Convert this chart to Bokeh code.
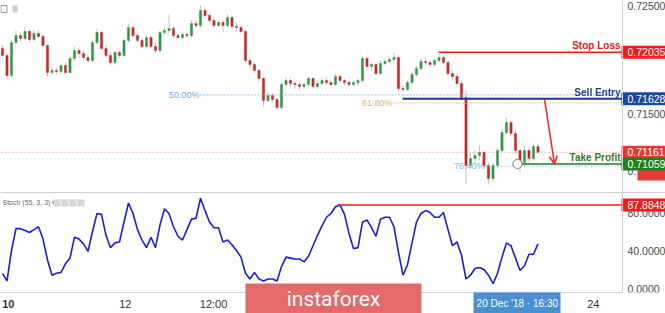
from bokeh.plotting import figure
from bokeh.models import Range1d, Arrow, OpenHead
from bokeh.embed import file_html
from bokeh.resources import INLINE
from bokeh.core.properties import value

# ---------------- data ----------------
opens = [
    0.72068, 0.72007, 0.71832, 0.72120, 0.72181, 0.72155, 0.72216, 0.72146, 0.72199, 0.72173,
    0.72094, 0.71858, 0.71876, 0.71867, 0.71919, 0.71858, 0.71980, 0.72050, 0.72024, 0.71989,
    0.71963, 0.72120, 0.72208, 0.72068, 0.72007, 0.71946, 0.72033, 0.72007, 0.72138, 0.72251,
    0.72181, 0.72138, 0.72085, 0.72164, 0.72085, 0.72050, 0.72208, 0.72225, 0.72242, 0.72181,
    0.72164, 0.72190, 0.72181, 0.72286, 0.72269, 0.72400, 0.72356, 0.72312, 0.72269, 0.72295,
    0.72269, 0.72339, 0.72260, 0.72251, 0.72216, 0.71963, 0.71928, 0.71876, 0.71806, 0.71614,
    0.71657, 0.71622, 0.71553, 0.71753, 0.71788, 0.71762, 0.71753, 0.71736, 0.71753, 0.71806,
    0.71736, 0.71762, 0.71788, 0.71771, 0.71753, 0.71823, 0.71788, 0.71771, 0.71753, 0.71771,
    0.71788, 0.71980, 0.71911, 0.71928, 0.71849, 0.71937, 0.71954, 0.71972, 0.71989, 0.71718,
    0.71710, 0.71771, 0.71841, 0.71893, 0.71954, 0.71946, 0.71928, 0.71963, 0.71989, 0.71946,
    0.71849, 0.71823, 0.71762, 0.71640, 0.71046, 0.71107, 0.71133, 0.71160, 0.71046, 0.70933,
    0.71046, 0.71177, 0.71334, 0.71422, 0.71326, 0.71177, 0.71072, 0.71177, 0.71107, 0.71212,
]
highs = [
    0.72094, 0.72024, 0.72138, 0.72225, 0.72208, 0.72260, 0.72234, 0.72225, 0.72225, 0.72190,
    0.72103, 0.71911, 0.71902, 0.71937, 0.71946, 0.71998, 0.72085, 0.72077, 0.72050, 0.72015,
    0.72138, 0.72242, 0.72225, 0.72094, 0.72033, 0.72050, 0.72050, 0.72155, 0.72286, 0.72269,
    0.72199, 0.72155, 0.72190, 0.72181, 0.72120, 0.72225, 0.72260, 0.72365, 0.72260, 0.72199,
    0.72216, 0.72216, 0.72312, 0.72312, 0.72443, 0.72426, 0.72373, 0.72339, 0.72321, 0.72321,
    0.72365, 0.72356, 0.72286, 0.72269, 0.72234, 0.71989, 0.71946, 0.71893, 0.71823, 0.71683,
    0.71675, 0.71640, 0.71771, 0.71815, 0.71806, 0.71788, 0.71771, 0.71771, 0.71823, 0.71823,
    0.71788, 0.71806, 0.71815, 0.71788, 0.71849, 0.71841, 0.71806, 0.71788, 0.71788, 0.71806,
    0.72007, 0.71998, 0.71946, 0.71946, 0.71963, 0.71980, 0.71998, 0.72033, 0.72007, 0.71745,
    0.71788, 0.71858, 0.71919, 0.71980, 0.71989, 0.71963, 0.71980, 0.72024, 0.72007, 0.71963,
    0.71876, 0.71849, 0.71780, 0.71701, 0.71151, 0.71177, 0.71221, 0.71177, 0.71072, 0.71072,
    0.71203, 0.71369, 0.71465, 0.71439, 0.71352, 0.71194, 0.71221, 0.71212, 0.71238, 0.71238,
]
lows = [
    0.71989, 0.71797, 0.71815, 0.72103, 0.72129, 0.72138, 0.72120, 0.72129, 0.72155, 0.72077,
    0.71823, 0.71832, 0.71841, 0.71849, 0.71841, 0.71849, 0.71963, 0.71989, 0.71963, 0.71937,
    0.71946, 0.72103, 0.72050, 0.71980, 0.71919, 0.71928, 0.71980, 0.71989, 0.72120, 0.72164,
    0.72120, 0.72068, 0.72068, 0.72068, 0.72024, 0.72033, 0.72190, 0.72199, 0.72155, 0.72138,
    0.72146, 0.72155, 0.72164, 0.72242, 0.72251, 0.72330, 0.72286, 0.72242, 0.72251, 0.72208,
    0.72251, 0.72234, 0.72216, 0.72199, 0.71937, 0.71902, 0.71849, 0.71771, 0.71561, 0.71596,
    0.71596, 0.71526, 0.71535, 0.71736, 0.71736, 0.71718, 0.71710, 0.71718, 0.71736, 0.71718,
    0.71718, 0.71745, 0.71745, 0.71727, 0.71736, 0.71762, 0.71745, 0.71727, 0.71736, 0.71745,
    0.71771, 0.71876, 0.71876, 0.71823, 0.71832, 0.71919, 0.71937, 0.71946, 0.71692, 0.71683,
    0.71692, 0.71753, 0.71823, 0.71876, 0.71928, 0.71902, 0.71911, 0.71946, 0.71928, 0.71823,
    0.71788, 0.71736, 0.71614, 0.70889, 0.71020, 0.71072, 0.71090, 0.71020, 0.70880, 0.70898,
    0.71020, 0.71160, 0.71317, 0.71299, 0.71151, 0.70985, 0.71046, 0.71072, 0.71090, 0.71151,
]
closes = [
    0.72007, 0.71832, 0.72120, 0.72181, 0.72155, 0.72216, 0.72146, 0.72199, 0.72173, 0.72094,
    0.71858, 0.71876, 0.71867, 0.71919, 0.71858, 0.71980, 0.72050, 0.72024, 0.71989, 0.71963,
    0.72120, 0.72208, 0.72068, 0.72007, 0.71946, 0.72033, 0.72007, 0.72138, 0.72251, 0.72181,
    0.72138, 0.72085, 0.72164, 0.72085, 0.72050, 0.72208, 0.72225, 0.72242, 0.72181, 0.72164,
    0.72190, 0.72181, 0.72286, 0.72269, 0.72400, 0.72356, 0.72312, 0.72269, 0.72295, 0.72269,
    0.72339, 0.72260, 0.72251, 0.72216, 0.71963, 0.71928, 0.71876, 0.71806, 0.71614, 0.71657,
    0.71622, 0.71553, 0.71753, 0.71788, 0.71762, 0.71753, 0.71736, 0.71753, 0.71806, 0.71736,
    0.71762, 0.71788, 0.71771, 0.71753, 0.71823, 0.71788, 0.71771, 0.71753, 0.71771, 0.71788,
    0.71980, 0.71911, 0.71928, 0.71849, 0.71937, 0.71954, 0.71972, 0.71989, 0.71718, 0.71710,
    0.71771, 0.71841, 0.71893, 0.71954, 0.71946, 0.71928, 0.71963, 0.71989, 0.71946, 0.71849,
    0.71823, 0.71762, 0.71640, 0.71046, 0.71107, 0.71133, 0.71160, 0.71046, 0.70933, 0.71046,
    0.71177, 0.71334, 0.71422, 0.71326, 0.71177, 0.71072, 0.71177, 0.71107, 0.71212, 0.71161,
]
stoch_k = [
    16, 8, 40, 63, 63, 61, 59, 62, 65, 52,
    30, 14, 16, 17, 26, 32, 54, 52, 47, 39,
    60, 79, 78, 56, 43, 48, 49, 70, 90, 79,
    62, 51, 43, 54, 43, 67, 84, 79, 65, 55,
    51, 62, 73, 74, 95, 82, 70, 64, 64, 49,
    51, 46, 40, 33, 16, 10, 17, 10, 8, 10,
    10, 8, 23, 33, 32, 31, 31, 28, 34, 45,
    56, 66, 75, 79, 86, 88, 78, 58, 42, 43,
    70, 72, 64, 55, 73, 75, 75, 65, 38, 14,
    25, 48, 70, 79, 82, 80, 75, 75, 80, 62,
    45, 49, 35, 10, 14, 21, 22, 20, 14, 5,
    16, 33, 48, 45, 32, 19, 24, 36, 36, 47,
]

stop_loss = 0.72035
sell_entry = 0.71628
take_profit = 0.71059
last_price = 0.71161
fib_levels = [0.71663, 0.71590, 0.71040]
fib_labels = ["50.00%", "61.80%", "76.40%"]
stoch_level = 87.8848
price_ticks = [0.71500, 0.71000]
price_tick_labels = ["0.71500", "0.71000"]
top_price_label = "0.72500"
stoch_ticks = [80, 40, 0]
stoch_tick_labels = ["80.0000", "40.0000", "0.0000"]
time_tick_bars = [27.3, 46.9, 131.3]
time_tick_labels = ["12", "12:00", "24"]
first_tick_bar = 1.3
first_tick_label = "10"
cursor_bar = 114.4
cursor_label = "20 Dec '18 \u00b7 16:30"

# ---------------- layout constants ----------------
W, H = 665, 313
BAR_PX, FIRST_PX = 4.5, 2.0
PRICE_TOP, PX_PER_PRICE = 0.72487, 11450.0
STOCH_ZERO_PX, PX_PER_STOCH = 288.0, 0.95
AXIS_PX, SPLIT_PX, TAXIS_PX = 622, 192, 292
FONT = value("Liberation Sans")


def bar_x(px):
    return (px - FIRST_PX) / BAR_PX


AX = bar_x(AXIS_PX)

p = figure(width=W, height=H, output_backend="svg", toolbar_location=None, tools="",
           x_axis_location=None, y_axis_location=None, min_border=0,
           x_range=Range1d(bar_x(0), bar_x(W)),
           y_range=Range1d(PRICE_TOP - H / PX_PER_PRICE, PRICE_TOP))
p.extra_x_ranges = {"px": Range1d(0, W)}
p.extra_y_ranges = {"px": Range1d(H, 0),
                    "stoch": Range1d((STOCH_ZERO_PX - H) / PX_PER_STOCH, STOCH_ZERO_PX / PX_PER_STOCH)}
p.outline_line_color = None
p.grid.visible = False
p.background_fill_color = "white"
p.border_fill_color = "white"

# ---------------- price panel ----------------
idx = list(range(len(closes)))
p.segment(x0=[bar_x(0)], y0=[last_price], x1=[AX], y1=[last_price],
          line_color="#f3b4b4", line_width=1, line_dash="2 2")

p.segment(x0=idx, y0=lows, x1=idx, y1=highs, line_color="#c4c4c4", line_width=1)
up = [i for i in idx if closes[i] >= opens[i]]
dn = [i for i in idx if closes[i] < opens[i]]
p.vbar(x=up, width=0.5, top=[closes[i] for i in up], bottom=[opens[i] for i in up],
       fill_color="#2f9a48", line_color="#2a8a40", line_width=0.4)
p.vbar(x=dn, width=0.5, top=[opens[i] for i in dn], bottom=[closes[i] for i in dn],
       fill_color="#cc2b2b", line_color="#a92020", line_width=0.4)

# fib lines
fib_start_px = [200, 393, 485]
fib_colors = ["#6fa8e6", "#d9b45c", "#7fb2e8"]
for lvl, lab, spx, col in zip(fib_levels, fib_labels, fib_start_px, fib_colors):
    p.segment(x0=[bar_x(spx)], y0=[lvl], x1=[AX], y1=[lvl], line_color=col,
              line_width=1.3, line_dash="1 2")
    p.text(x=[spx - 1], y=[lvl], text=[lab], x_range_name="px", text_font=FONT,
           text_font_size="9px", text_color=col, text_align="right", text_baseline="middle")

# trade lines
p.segment(x0=[bar_x(438)], y0=[stop_loss], x1=[AX], y1=[stop_loss], line_color="#ee1c1c", line_width=1.5)
p.segment(x0=[bar_x(402)], y0=[sell_entry], x1=[AX], y1=[sell_entry], line_color="#1b3a8c", line_width=2)
p.segment(x0=[bar_x(519)], y0=[take_profit], x1=[AX], y1=[take_profit], line_color="#237a23", line_width=1.5)
p.scatter(x=[bar_x(517)], y=[take_profit], size=9, fill_color="white", line_color="#8a8a8a", line_width=1.2)

arrow = Arrow(x_start=bar_x(544), y_start=sell_entry, x_end=bar_x(554), y_end=take_profit,
              line_color="#ee2222", line_width=1.5,
              end=OpenHead(size=8, line_color="#ee2222", line_width=1.5))
p.add_layout(arrow)

for txt, lvl, col in [("Stop Loss", stop_loss, "#e8161b"), ("Sell Entry", sell_entry, "#1d3f94"),
                      ("Take Profit", take_profit, "#2a7f2a")]:
    p.text(x=[620], y=[lvl], text=[txt], x_range_name="px", text_font=FONT, text_font_size="10px",
           text_font_style="bold", text_color=col, text_align="right", text_baseline="bottom", y_offset=-1)

# price axis labels
p.text(x=[627], y=[1], text=[top_price_label], x_range_name="px", y_range_name="px",
       text_font=FONT, text_font_size="10.5px", text_color="#4a4a4a", text_baseline="top")
p.text(x=[627] * len(price_ticks), y=price_ticks, text=price_tick_labels, x_range_name="px",
       text_font=FONT, text_font_size="10.5px", text_color="#4a4a4a", text_baseline="middle")
p.quad(left=[637], right=[668], top=[168], bottom=[180], x_range_name="px", y_range_name="px",
       fill_color="#e53935", line_color=None)
for lvl, col, lab in [(stop_loss, "#f01b1b", "0.72035"), (sell_entry, "#1e4a9a", "0.71628"),
                      (last_price, "#e53935", "0.71161"), (take_profit, "#1f7f1f", "0.71059")]:
    p.rect(x=[644], y=[lvl], width=[46], height=[13], height_units="screen", x_range_name="px",
           fill_color=col, line_color=None)
    p.text(x=[627], y=[lvl], text=[lab], x_range_name="px", text_font=FONT, text_font_size="10.5px",
           text_color="white", text_baseline="middle")

# top-left icons
p.quad(left=[0.5], right=[6.5], top=[5], bottom=[12], x_range_name="px", y_range_name="px",
       fill_color="white", line_color="#9a9a9a")
p.quad(left=[12], right=[17], top=[5], bottom=[12], x_range_name="px", y_range_name="px",
       fill_color="#c9cbd6", line_color=None)

# ---------------- stoch panel ----------------
p.line(idx, stoch_k, y_range_name="stoch", line_color="#1c1cd8", line_width=1.6)
p.segment(x0=[bar_x(337)], y0=[stoch_level], x1=[AX], y1=[stoch_level], y_range_name="stoch",
          line_color="#ee1c1c", line_width=1.5)
p.text(x=[627] * len(stoch_ticks), y=stoch_ticks, text=stoch_tick_labels, x_range_name="px",
       y_range_name="stoch", text_font=FONT, text_font_size="10.5px", text_color="#4a4a4a",
       text_baseline="middle")
p.rect(x=[644], y=[stoch_level], width=[46], height=[13], height_units="screen", x_range_name="px",
       y_range_name="stoch", fill_color="#f01b1b", line_color=None)
p.text(x=[627], y=[stoch_level], text=["87.8848"], x_range_name="px", y_range_name="stoch",
       text_font=FONT, text_font_size="10.5px", text_color="white", text_baseline="middle")
p.text(x=[2], y=[202], text=["Stoch (55, 3, 3) \u25be"], x_range_name="px", y_range_name="px",
       text_font=FONT, text_font_size="7px", text_color="#6a6a6a", text_baseline="middle")
p.quad(left=[53, 61, 69, 77], right=[60, 68, 76, 84], top=[199] * 4, bottom=[206] * 4,
       x_range_name="px", y_range_name="px", fill_color="#d6d6d6", line_color=None)

# frame lines
p.quad(left=[0], right=[W], top=[TAXIS_PX], bottom=[H], x_range_name="px", y_range_name="px",
       fill_color="white", line_color=None)
p.segment(x0=[0, AXIS_PX, 0], y0=[SPLIT_PX, 0, TAXIS_PX], x1=[W, AXIS_PX, AXIS_PX],
          y1=[SPLIT_PX, TAXIS_PX, TAXIS_PX], x_range_name="px", y_range_name="px",
          line_color="#cfcfcf", line_width=1)

# time axis labels
p.text(x=[first_tick_bar], y=[303], text=[first_tick_label], y_range_name="px",
       text_font=FONT, text_font_size="11px", text_font_style="bold", text_color="#333333",
       text_align="center", text_baseline="middle")
p.text(x=time_tick_bars, y=[303] * len(time_tick_bars), text=time_tick_labels, y_range_name="px",
       text_font=FONT, text_font_size="11px", text_color="#333333", text_align="center",
       text_baseline="middle")
p.quad(left=[473], right=[560], top=[TAXIS_PX], bottom=[H], x_range_name="px", y_range_name="px",
       fill_color="#4a8fd2", line_color=None)
p.text(x=[cursor_bar], y=[303], text=[cursor_label], y_range_name="px", text_font=FONT,
       text_font_size="10px", text_color="white", text_align="center", text_baseline="middle")

# watermark
p.quad(left=[245], right=[421], top=[283], bottom=[H], x_range_name="px", y_range_name="px",
       fill_color="#e26a6a", line_color=None)
p.text(x=[333], y=[298], text=["instaforex"], x_range_name="px", y_range_name="px",
       text_font=value("Roboto"), text_font_size="21px", text_color="white", text_align="center",
       text_baseline="middle")

open("out.html", "w").write(file_html(p, INLINE))
